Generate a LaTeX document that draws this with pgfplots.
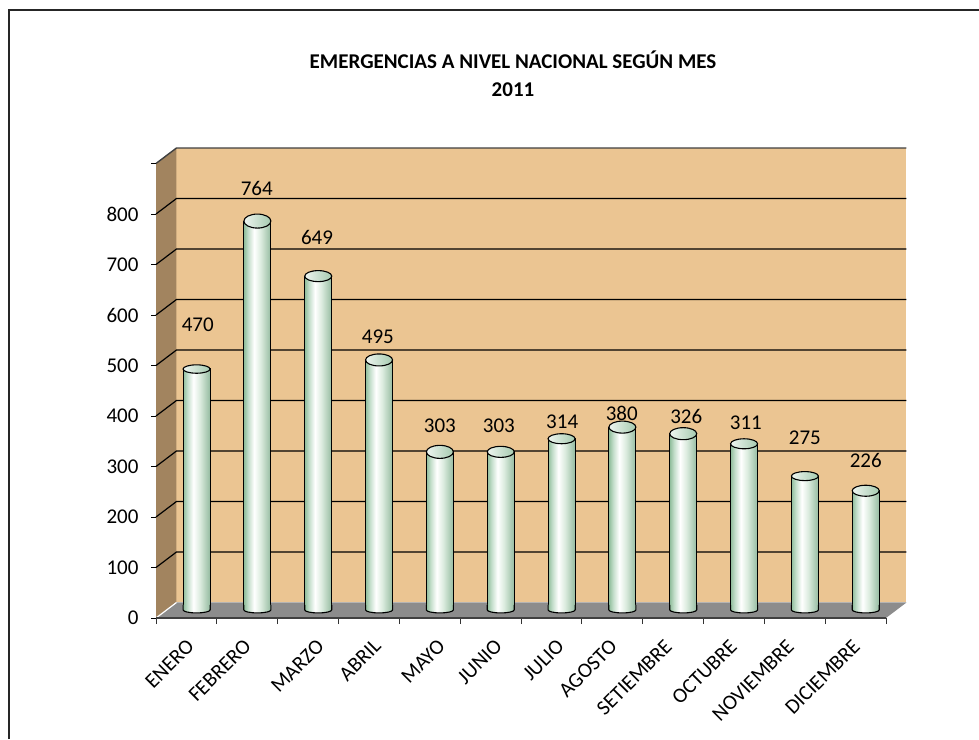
\documentclass[border=0pt]{standalone}
\usepackage{pgfplots}
\pgfplotsset{compat=1.18}
\usepackage{pgfplotstable}
\usepackage{fontspec}
\setmainfont{Carlito}
\definecolor{wall}{HTML}{EBC592}
\definecolor{sidew}{HTML}{A2845F}
\definecolor{floorc}{HTML}{8C8C8C}
\definecolor{cyla}{HTML}{8FBD9B}
\definecolor{cylb}{HTML}{C4DECB}
\definecolor{cylc}{HTML}{FFFFFF}
\definecolor{cyld}{HTML}{DCECDF}
\definecolor{cyle}{HTML}{95BBA0}
\pgfdeclarehorizontalshading{cyl}{100bp}{color(0bp)=(cyla); color(25bp)=(cyla); color(33bp)=(cylb); color(44bp)=(cylc); color(56bp)=(cyld); color(75bp)=(cyle); color(100bp)=(cyle)}
\pgfdeclareplotmark{cyltop}{\path[draw=black,line width=1.1pt,left color=cylc!85!cyla,right color=cyla!80!white] (0pt,0pt) ellipse (13.5pt and \ry pt);}
\pgfdeclareplotmark{cylbot}{\path[draw=black,line width=1.1pt,shading=cyl] (-13.5pt,5pt) -- (-13.5pt,0pt) arc (180:360:13.5pt and 3pt) -- (13.5pt,5pt);}
\pgfplotsset{cylbar/.style={ybar,bar width=27pt,bar shift=0pt,draw=black,line width=1.1pt,shading=cyl}}
\pgfplotstableread{
x h ry
1 477 4.2
2 770 7
3 661 5.5
4 495 6
5 313 6.5
6 313 5.5
7 339 5
8 362 6
9 349 6
10 329 5
11 265 4.5
12 236 5.5
}\bars
\pgfplotstableread{
x y lab
1.02 564 470
1.99 835 764
2.98 738 649
3.98 540 495
5.00 364 303
5.97 364 303
7.01 372 314
7.99 390 380
9.05 384 326
10.03 370 311
11.00 340 275
12.00 295 226
}\labels
\begin{document}
\begin{tikzpicture}[x=1pt,y=1pt]
\useasboundingbox (0,0) rectangle (979,739);
\draw[line width=1.5pt,black!85] (9,0) -- (9,729) -- (979,729);
\node[font=\fontsize{21}{24}\bfseries\selectfont] at (513,679) {EMERGENCIAS A NIVEL NACIONAL SEGÚN MES};
\node[font=\fontsize{21}{24}\bfseries\selectfont] at (513,649) {2011};
\begin{axis}[
  at={(156pt,121pt)}, anchor=south west, scale only axis,
  width=730pt, height=454.5pt, clip=false, axis on top,
  xmin=0.3333, xmax=12.3333, ymin=0, ymax=900,
  axis lines=left, x axis line style={-,line width=1.5pt,black!75}, y axis line style={draw=none},
  xtick={0.876,1.813,3.013,3.950,5.002,5.939,6.958,7.830,8.734,9.802,10.739,11.824},
  xticklabels={ENERO,FEBRERO,MARZO,ABRIL,MAYO,JUNIO,JULIO,AGOSTO,SETIEMBRE,OCTUBRE,NOVIEMBRE,DICIEMBRE},
  minor xtick={0.3333,1.3333,2.3333,3.3333,4.3333,5.3333,6.3333,7.3333,8.3333,9.3333,10.3333,11.3333,12.3333},
  ytick={0,100,...,900},
  yticklabels={0,100,200,300,400,500,600,700,800,},
  tick align=outside, tick pos=left,
  major x tick style={draw=none}, minor x tick style={line width=1pt,black!80},
  major y tick style={line width=1pt,black},
  major tick length=5pt, minor tick length=6pt,
  /pgf/number format/assume math mode=true,
  ticklabel style={font=\fontsize{21}{24}\selectfont},
  xticklabel style={rotate=45,anchor=north east,inner sep=0pt,yshift=-8pt,xshift=-13pt},
  yticklabel style={xshift=-9pt},
]
\addplot[fill=wall,draw=none] coordinates {(0.67,30.7) (12.67,30.7) (12.67,930.7) (0.67,930.7)};
\addplot[fill=sidew,draw=none] coordinates {(0.3333,0) (0.67,30.7) (0.67,930.7) (0.3333,900)};
\addplot[fill=floorc,draw=none] coordinates {(0.3333,0) (12.3333,0) (12.67,30.7) (0.67,30.7)};
\addplot[white,line width=1.2pt] coordinates {(0.3333,0) (0.67,30.7)};
\addplot[black,line width=1.2pt,unbounded coords=jump] coordinates {
 (0.3333,100) (0.67,130.7) (12.67,130.7) (12.67,nan)
 (0.3333,200) (0.67,230.7) (12.67,230.7) (12.67,nan)
 (0.3333,300) (0.67,330.7) (12.67,330.7) (12.67,nan)
 (0.3333,400) (0.67,430.7) (12.67,430.7) (12.67,nan)
 (0.3333,500) (0.67,530.7) (12.67,530.7) (12.67,nan)
 (0.3333,600) (0.67,630.7) (12.67,630.7) (12.67,nan)
 (0.3333,700) (0.67,730.7) (12.67,730.7) (12.67,nan)
 (0.3333,800) (0.67,830.7) (12.67,830.7) (12.67,nan)
};
\addplot[black!75,line width=1.4pt] coordinates {(0.3333,900) (0.67,930.7) (12.67,930.7)};
\end{axis}
\begin{axis}[
  at={(156pt,121pt)}, anchor=south west, scale only axis,
  width=730pt, height=454.5pt, clip=false, hide axis,
  xmin=0.3333, xmax=12.3333, ymin=-16, ymax=884,
]
\addplot[cylbar] coordinates {(1,477)};
\addplot[cylbar] coordinates {(2,770)};
\addplot[cylbar] coordinates {(3,661)};
\addplot[cylbar] coordinates {(4,495)};
\addplot[cylbar] coordinates {(5,313)};
\addplot[cylbar] coordinates {(6,313)};
\addplot[cylbar] coordinates {(7,339)};
\addplot[cylbar] coordinates {(8,362)};
\addplot[cylbar] coordinates {(9,349)};
\addplot[cylbar] coordinates {(10,329)};
\addplot[cylbar] coordinates {(11,265)};
\addplot[cylbar] coordinates {(12,236)};
\addplot[only marks,mark=cylbot,scatter,scatter/use mapped color={},point meta=x] table[x=x,y expr=0] {\bars};
\addplot[only marks,mark=cyltop,scatter,scatter/use mapped color={},point meta=y,visualization depends on={\thisrow{ry}\as\ry}] table[x=x,y=h] {\bars};
\addplot[only marks,mark=none,point meta=explicit symbolic,nodes near coords,nodes near coords align=center,
  every node near coord/.append style={anchor=center,inner sep=0pt,font=\fontsize{21}{24}\selectfont}] table[x=x,y=y,meta=lab] {\labels};
\end{axis}
\end{tikzpicture}
\end{document}
